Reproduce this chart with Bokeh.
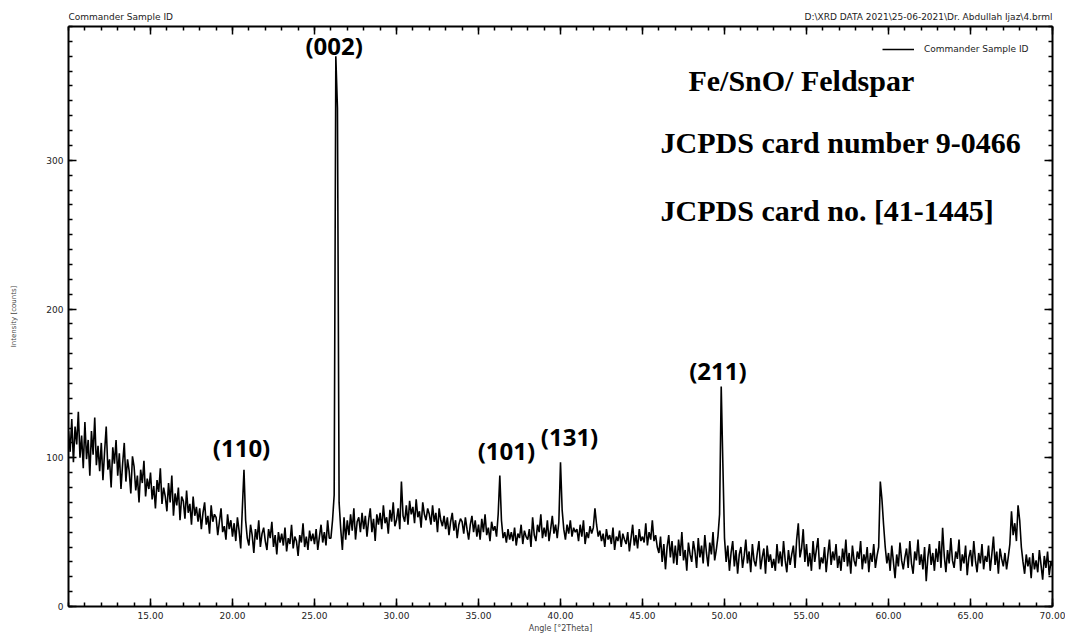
from bokeh.plotting import figure
from bokeh.layouts import column
from bokeh.models import Range1d, LinearAxis, FixedTicker, NumeralTickFormatter, Label, CustomJSTickFormatter
from bokeh.core.properties import value
from bokeh.embed import file_html
from bokeh.resources import INLINE

# ---- data ----
scan_start = 10.0      # deg 2theta
scan_step = 0.1        # deg 2theta
intensity = [
    118, 104, 126, 97, 121, 109, 131, 100, 115, 93,   # 10
    124, 99, 112, 88, 118, 102, 127, 95, 108, 91,     # 11
    110, 85, 104, 121, 92, 99, 80, 107, 96, 112,      # 12
    88, 103, 79, 96, 110, 84, 99, 91, 76, 101,        # 13
    94, 78, 88, 70, 92, 83, 98, 74, 86, 79,           # 14
    90, 72, 81, 66, 85, 77, 93, 69, 80, 74,           # 15
    64, 83, 70, 88, 61, 76, 68, 80, 58, 74,           # 16
    71, 59, 78, 63, 69, 55, 74, 61, 67, 57,           # 17
    66, 52, 63, 70, 55, 61, 49, 68, 57, 62,           # 18
    60, 48, 57, 66, 50, 54, 45, 62, 52, 58,           # 19
    47, 56, 44, 60, 51, 39, 66, 92, 58, 46,           # 20
    41, 55, 48, 36, 52, 45, 58, 40, 49, 53,           # 21
    44, 38, 52, 46, 57, 40, 48, 35, 50, 43,           # 22
    49, 41, 53, 37, 46, 42, 55, 39, 47, 44,           # 23
    34, 48, 43, 56, 40, 47, 38, 51, 44, 49,           # 24
    42, 52, 38, 47, 55, 43, 50, 41, 58, 46,           # 25
    46, 58, 75, 370, 335, 70, 52, 38, 60, 45,         # 26
    58, 48, 62, 51, 66, 45, 57, 60, 50, 63,           # 27
    52, 61, 47, 58, 66, 50, 59, 44, 62, 55,           # 28
    63, 52, 68, 56, 60, 49, 65, 57, 70, 54,           # 29
    58, 66, 52, 84, 61, 57, 68, 55, 71, 62,           # 30
    67, 56, 72, 60, 64, 53, 70, 62, 58, 66,           # 31
    62, 55, 68, 57, 63, 50, 66, 58, 54, 61,           # 32
    52, 60, 48, 57, 63, 51, 58, 46, 55, 59,           # 33
    57, 49, 60, 52, 45, 55, 61, 50, 58, 47,           # 34
    55, 45, 59, 50, 62, 48, 53, 44, 57, 51,           # 35
    54, 47, 62, 88, 58, 46, 50, 43, 52, 45,           # 36
    50, 44, 53, 41, 49, 46, 55, 42, 51, 47,           # 37
    45, 52, 40, 60, 48, 44, 55, 50, 62, 46,           # 38
    53, 47, 58, 44, 52, 61, 49, 55, 46, 57,           # 39
    97, 65, 52, 45, 55, 49, 58, 47, 53, 50,           # 40
    52, 44, 55, 47, 58, 42, 50, 46, 54, 49,           # 41
    53, 66, 55, 47, 51, 44, 49, 40, 52, 45,           # 42
    48, 42, 53, 38, 47, 44, 51, 40, 49, 45,           # 43
    42, 50, 37, 46, 55, 41, 48, 39, 52, 44,           # 44
    47, 43, 56, 41, 50, 45, 58, 44, 48, 40,           # 45
    36, 47, 30, 42, 25, 40, 48, 33, 44, 29,           # 46
    41, 28, 45, 34, 50, 31, 38, 24, 43, 35,           # 47
    30, 44, 37, 26, 46, 33, 41, 29, 48, 36,           # 48
    27, 43, 35, 50, 31, 38, 47, 62, 148, 96,          # 49
    46, 30, 41, 24, 36, 44, 27, 38, 22, 35,           # 50
    40, 26, 34, 45, 29, 37, 23, 42, 31, 27,           # 51
    36, 44, 25, 33, 39, 22, 41, 30, 35, 26,           # 52
    32, 24, 42, 29, 37, 27, 44, 31, 23, 38,           # 53
    28, 35, 41, 26, 45, 56, 33, 39, 52, 30,           # 54
    42, 27, 36, 24, 44, 30, 38, 46, 25, 33,           # 55
    29, 40, 23, 35, 45, 28, 37, 31, 42, 26,           # 56
    34, 24, 39, 30, 45, 27, 36, 22, 41, 31,           # 57
    27, 37, 32, 44, 25, 35, 29, 40, 23, 36,           # 58
    30, 42, 26, 34, 40, 84, 72, 55, 40, 29,           # 59
    36, 24, 41, 30, 19, 35, 27, 43, 31, 25,           # 60
    33, 39, 26, 44, 29, 22, 37, 31, 45, 28,           # 61
    35, 25, 40, 17, 33, 42, 28, 36, 24, 39,           # 62
    30, 44, 26, 53, 34, 23, 38, 29, 46, 31,           # 63
    26, 37, 32, 45, 24, 35, 29, 41, 21, 33,           # 64
    38, 27, 44, 31, 23, 36, 29, 42, 25, 34,           # 65
    30, 41, 24, 35, 47, 28, 37, 22, 39, 32,           # 66
    27, 36, 25, 33, 42, 64, 48, 56, 44, 68,           # 67
    58, 40, 30, 22, 35, 27, 33, 19, 36, 25,           # 68
    31, 23, 38, 28, 18, 34, 26, 37, 21, 30,           # 69
    27,                                               # 70
]
angles = [round(scan_start + i * scan_step, 1) for i in range(len(intensity))]

x_major_ticks = [15, 20, 25, 30, 35, 40, 45, 50, 55, 60, 65, 70]
x_minor_ticks = list(range(10, 71))
y_major_ticks = [0, 100, 200, 300]
y_minor_ticks = list(range(0, 391, 10))

peak_labels = ["(110)", "(002)", "(101)", "(131)", "(211)"]
peak_label_x = [20.55, 26.2, 36.7, 40.55, 49.6]
peak_label_y = [107, 377, 105, 114, 159]

info_lines = ["Fe/SnO/ Feldspar", "JCPDS card number 9-0466", "JCPDS card no. [41-1445]"]
info_x = [47.8, 46.1, 46.1]
info_y = [353.7, 312.1, 266.5]

header_left = "Commander Sample ID"
header_right = "D:\\XRD DATA 2021\\25-06-2021\\Dr. Abdullah Ijaz\\4.brml"

FONT = "DejaVu Sans"
x_range = Range1d(10, 70)

# ---- header strip (texts above the plot frame) ----
hdr = figure(width=1065, height=25, x_range=x_range, y_range=Range1d(0, 25),
             output_backend="svg", toolbar_location=None, title=None,
             x_axis_type=None, y_axis_type=None,
             min_border_left=68, min_border_right=13, min_border_top=0, min_border_bottom=0)
hdr.outline_line_color = None
hdr.xgrid.visible = False
hdr.ygrid.visible = False
hdr.text(x=[x_range.start], y=[9], text=[header_left], text_align="left",
         text_baseline="middle", text_font=value(FONT), text_font_size="9px", text_color="#222222")
hdr.text(x=[x_range.end], y=[9], text=[header_right], text_align="right",
         text_baseline="middle", text_font=value(FONT), text_font_size="9px", text_color="#222222")

# ---- main figure ----
p = figure(width=1065, height=610, x_range=x_range, y_range=Range1d(0, 390),
           output_backend="svg", toolbar_location=None, title=None,
           min_border_left=68, min_border_right=13, min_border_top=1, min_border_bottom=28)
p.background_fill_color = "white"
p.border_fill_color = "white"
p.outline_line_color = None
p.xgrid.visible = False
p.ygrid.visible = False

p.line(angles, intensity, line_color="black", line_width=1.6, legend_label="Commander Sample ID")


def style_axis(ax, major, minor, show_labels):
    ax.ticker = FixedTicker(ticks=major, minor_ticks=minor)
    ax.axis_line_width = 2
    ax.axis_line_color = "black"
    ax.major_tick_in = 8
    ax.major_tick_out = 0
    ax.minor_tick_in = 4
    ax.minor_tick_out = 0
    ax.major_tick_line_width = 1.5
    ax.minor_tick_line_width = 1.5
    ax.major_tick_line_color = "black"
    ax.minor_tick_line_color = "black"
    ax.major_label_text_font = FONT
    ax.major_label_text_color = "#222222"
    if show_labels:
        ax.major_label_text_font_size = "9px"
        ax.major_label_standoff = 5
    else:
        ax.major_label_text_font_size = "0px"
        ax.major_label_standoff = 0
        ax.formatter = CustomJSTickFormatter(code="return ''")


xb = p.xaxis[0]
style_axis(xb, x_major_ticks, x_minor_ticks, True)
xb.formatter = NumeralTickFormatter(format="0.00")
xb.axis_label = "Angle [°2Theta]"
xb.axis_label_text_font = FONT
xb.axis_label_text_font_size = "8px"
xb.axis_label_text_font_style = "normal"
xb.axis_label_standoff = 2

yl = p.yaxis[0]
style_axis(yl, y_major_ticks, y_minor_ticks, True)
yl.axis_label = "Intensity [counts]"
yl.axis_label_text_font = FONT
yl.axis_label_text_font_size = "7px"
yl.axis_label_text_font_style = "normal"
yl.axis_label_standoff = 25

xt = LinearAxis()
style_axis(xt, x_major_ticks, x_minor_ticks, False)
p.add_layout(xt, "above")

yr = LinearAxis()
style_axis(yr, y_major_ticks, y_minor_ticks, False)
p.add_layout(yr, "right")

# legend
lg = p.legend[0]
lg.location = (814, 552)
lg.border_line_color = None
lg.background_fill_alpha = 0
lg.label_text_font = FONT
lg.label_text_font_size = "9px"
lg.label_text_color = "#222222"
lg.glyph_width = 32
lg.glyph_height = 10
lg.label_height = 10
lg.label_standoff = 10
lg.padding = 4
lg.margin = 0

# peak annotations
for t, x, y in zip(peak_labels, peak_label_x, peak_label_y):
    p.add_layout(Label(x=x, y=y, text=t, text_align="center", text_baseline="middle",
                       text_font="Open Sans", text_font_style="bold", text_font_size="24px",
                       text_color="black"))

# sample info
for t, x, y in zip(info_lines, info_x, info_y):
    p.add_layout(Label(x=x, y=y, text=t, text_align="left", text_baseline="alphabetic",
                       text_font="Liberation Serif", text_font_style="bold",
                       text_font_size="30px", text_color="black"))

layout = column(hdr, p, spacing=0)
open("out.html", "w").write(file_html(layout, INLINE))
